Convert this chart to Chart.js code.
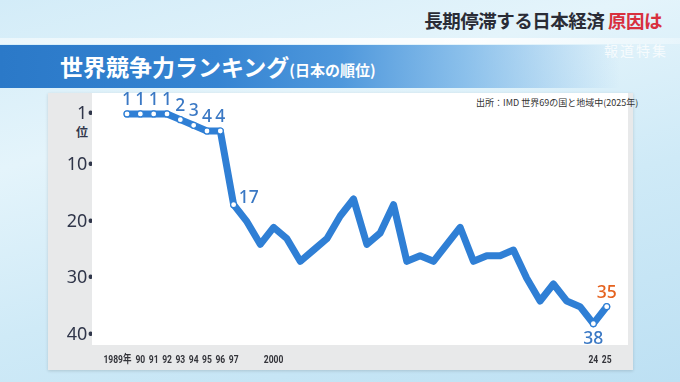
<!DOCTYPE html>
<html lang="ja">
<head>
<meta charset="utf-8">
<script src="https://cdn.jsdelivr.net/npm/chart.js@4/dist/chart.umd.min.js"></script>
<style>
  html,body{margin:0;padding:0;}
  body{width:680px;height:382px;overflow:hidden;position:relative;
    background:linear-gradient(165deg,#d3ecf8 0%,#e4f4fb 30%,#cfeaf7 60%,#bde0f3 100%);
    font-family:"Noto Sans CJK JP","Noto Sans",sans-serif;}
  #topline{position:absolute;left:0;top:38px;width:680px;height:6px;
    background:linear-gradient(to right,rgba(255,255,255,0.5),rgba(255,255,255,0.9) 70%,rgba(255,255,255,0.3));}
  #headline{position:absolute;right:18px;top:7px;font-size:18.5px;font-weight:700;color:#2a2c36;letter-spacing:-0.5px;white-space:nowrap;}
  #headline span{color:#d8303e;}
  #band{position:absolute;left:0;top:45px;width:620px;height:43px;
    background:linear-gradient(to right,#2b79c8 0%,#3584d2 35%,#4f98dc 55%,rgba(110,175,230,0.75) 75%,rgba(170,215,245,0) 100%);}
  #title{position:absolute;left:60px;top:49px;color:#fff;font-size:23px;font-weight:700;white-space:nowrap;letter-spacing:0px;}
  #title small{font-size:15px;font-weight:700;}
  #logo{position:absolute;left:604px;top:40px;color:rgba(255,255,255,0.75);font-size:14px;letter-spacing:2px;}
  #panel{position:absolute;left:48px;top:93px;width:585px;height:277px;background:#e8e9ea;box-shadow:0 1px 3px rgba(0,0,0,0.15);}
  #plot{position:absolute;left:92px;top:93px;width:536px;height:252px;background:#fff;}
  #src{position:absolute;left:476px;top:96px;font-size:9px;color:#333;white-space:nowrap;}
  #unit{position:absolute;left:76px;top:123px;font-size:12px;font-weight:700;color:#30364a;}
  canvas{position:absolute;left:0;top:0;}
</style>
</head>
<body>
<div id="topline"></div>
<div id="headline">長期停滞する日本経済 <span>原因は</span></div>
<div id="band"></div>
<div id="title">世界競争力ランキング<small>(日本の順位)</small></div>
<div id="logo">報道特集</div>
<div id="panel"></div>
<div id="plot"></div>
<div id="src">出所：IMD 世界69の国と地域中(2025年)</div>
<div id="unit">位</div>
<canvas id="c" width="680" height="382"></canvas>
<script>
// ---- data ----
const years = [1989,1990,1991,1992,1993,1994,1995,1996,1997,1998,1999,2000,2001,2002,2003,2004,2005,2006,2007,2008,2009,2010,2011,2012,2013,2014,2015,2016,2017,2018,2019,2020,2021,2022,2023,2024,2025];
const ranks = [1,1,1,1,2,3,4,4,17,20,24,21,23,27,25,23,19,16,24,22,17,27,26,27,24,21,27,26,26,25,30,34,31,34,35,38,35];
const labeledYears = [1989,1990,1991,1992,1993,1994,1995,1996,1997,2024,2025];
const xTickYears = [1989,1990,1991,1992,1993,1994,1995,1996,1997,2000,2024,2025];
const xTickLabels = ['1989年','90','91','92','93','94','95','96','97','2000','24','25'];
const yTickValues = [1,10,20,30,40];
const yTickLabels = ['1•','10•','20•','30•','40•'];

const BLUE = '#2f7fd5';
const LABEL_BLUE = '#3a78c4';
const ORANGE = '#e5621e';

const labelPlugin = {
  id: 'pointLabels',
  afterDatasetsDraw(chart) {
    const meta = chart.getDatasetMeta(0);
    const ctx = chart.ctx;
    ctx.save();
    ctx.font = '500 17.5px "Noto Sans", sans-serif';
    ctx.textBaseline = 'middle';
    labeledYears.forEach(yr => {
      const i = years.indexOf(yr);
      const p = meta.data[i];
      const last = i === years.length - 1;
      const prev = i === years.length - 2;
      let x = p.x, y = p.y, align = 'center';
      if (ranks[i] >= 10 && !last && !prev) { x += 5; y -= 7; align = 'left'; }
      else if (prev) { y += 15; }
      else { y -= 14; }
      ctx.textAlign = align;
      ctx.fillStyle = last ? ORANGE : LABEL_BLUE;
      ctx.fillText(String(ranks[i]), x, y);
    });
    ctx.restore();
  }
};

// draws the x axis labels (from the scale's own label items) horizontally condensed
const condensePlugin = {
  id: 'condenseX',
  afterLayout(chart) {
    const sc = chart.scales.x;
    if (sc._condensed) return;
    sc._condensed = true;
    sc.drawLabels = function(area) {
      const ctx = this.ctx;
      const items = this.getLabelItems(area);
      for (const item of items) {
        const o = item.options;
        ctx.save();
        ctx.translate(o.translation[0], o.translation[1]);
        ctx.scale(0.74, 1);
        ctx.font = item.font.string;
        ctx.fillStyle = o.color;
        ctx.textAlign = o.textAlign;
        ctx.textBaseline = o.textBaseline;
        ctx.fillText(item.label, 0, item.textOffset);
        ctx.restore();
      }
    };
  }
};

new Chart(document.getElementById('c'), {
  type: 'line',
  data: {
    datasets: [{
      data: years.map((y, i) => ({x: y, y: ranks[i]})),
      borderColor: BLUE,
      borderWidth: 7,
      borderJoinStyle: 'round',
      borderCapStyle: 'round',
      tension: 0,
      pointRadius: years.map(y => labeledYears.includes(y) ? 3 : 0),
      pointBackgroundColor: '#fff',
      pointBorderColor: BLUE,
      pointBorderWidth: 1.2
    }]
  },
  options: {
    responsive: false,
    animation: false,
    devicePixelRatio: 1,
    layout: {padding: {left: 0, top: 93, right: 52, bottom: 0}},
    plugins: {legend: {display: false}, tooltip: {enabled: false}},
    scales: {
      x: {
        type: 'linear',
        min: 1986.37,
        max: 2026.6,
        grid: {display: false, drawTicks: false},
        border: {display: false},
        afterFit: s => { s.height = 37; },
        afterBuildTicks: s => {
          s.ticks = xTickYears.map(v => ({value: v === 1989 ? v - 0.72 : v}));
        },
        ticks: {
          autoSkip: false,
          maxRotation: 0,
          padding: 8,
          color: '#33343a',
          font: {family: 'Roboto,"Noto Sans CJK JP",sans-serif', size: 11.5, weight: 'bold'},
          callback: (v, i) => xTickLabels[i]
        }
      },
      y: {
        reverse: true,
        min: -2.7,
        max: 41.76,
        grid: {display: false, drawTicks: false},
        border: {display: false},
        afterFit: s => { s.width = 92; },
        afterBuildTicks: s => { s.ticks = yTickValues.map(v => ({value: v})); },
        ticks: {
          padding: -2,
          color: '#30364a',
          font: {family: '"Noto Sans",sans-serif', size: 18},
          callback: (v, i) => yTickLabels[i]
        }
      }
    }
  },
  plugins: [labelPlugin, condensePlugin]
});
</script>
</body>
</html>
